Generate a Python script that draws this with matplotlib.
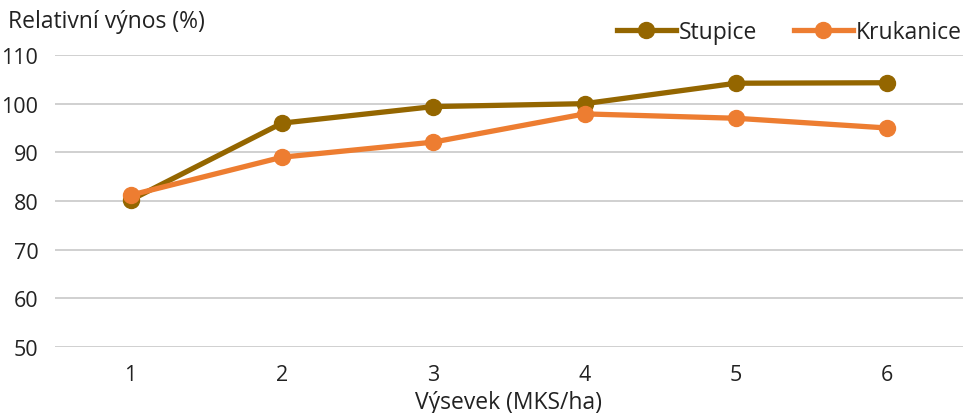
import matplotlib
matplotlib.use("Agg")
import matplotlib.pyplot as plt
from matplotlib.lines import Line2D

categories = ["1", "2", "3", "4", "5", "6"]
stupice = [80.2, 96.0, 99.4, 100.0, 104.2, 104.3]
krukanice = [81.2, 89.0, 92.1, 97.9, 97.0, 95.0]
yticks = [50, 60, 70, 80, 90, 100, 110]

plt.rcParams['font.family'] = ['Open Sans', 'DejaVu Sans']

c_st = '#946600'
c_kr = '#ED7D31'

fig = plt.figure(figsize=(9.63, 4.14), dpi=100)
ax = fig.add_axes([55/963, 1 - 348/414, (963 - 55)/963, (348 - 56)/414])

x = range(len(categories))
ax.plot(x, stupice, color=c_st, lw=3.8, marker='o', ms=11.5, zorder=3, label='Stupice')
ax.plot(x, krukanice, color=c_kr, lw=3.8, marker='o', ms=11.5, zorder=4, label='Krukanice')

ax.set_xlim(-0.5, len(categories) - 0.5)
ax.set_ylim(50, 110)
ax.set_yticks(yticks)
ax.set_xticks(list(x))
ax.set_xticklabels(categories)
ax.grid(axis='y', color='#c8c8c8', lw=1.2)
ax.set_axisbelow(True)
for s in ax.spines.values():
    s.set_visible(False)
ax.tick_params(length=0, labelsize=15.5, colors='#222222', pad=12)
ax.tick_params(axis='x', pad=12)
for lab in ax.get_yticklabels():
    lab.set_horizontalalignment('right')

fig.text(8/963, 1 - 22/414, 'Relativní výnos (%)', fontsize=16.5, color='#222222', va='center', ha='left')
fig.text(508/963, 1 - 403/414, 'Výsevek (MKS/ha)', fontsize=16.5, color='#222222', va='center', ha='center')

leg = fig.legend(handles=[Line2D([], [], color=c_st, lw=3.8, marker='o', ms=11.5),
                          Line2D([], [], color=c_kr, lw=3.8, marker='o', ms=11.5)],
                 labels=['Stupice', 'Krukanice'], loc='center right',
                 bbox_to_anchor=(982/963, 1 - 33/414), ncol=2, frameon=False,
                 fontsize=16.5, handlelength=2.6, handletextpad=0.1, columnspacing=1.6,
                 labelcolor='#222222')

fig.savefig('out.png', dpi=100)
